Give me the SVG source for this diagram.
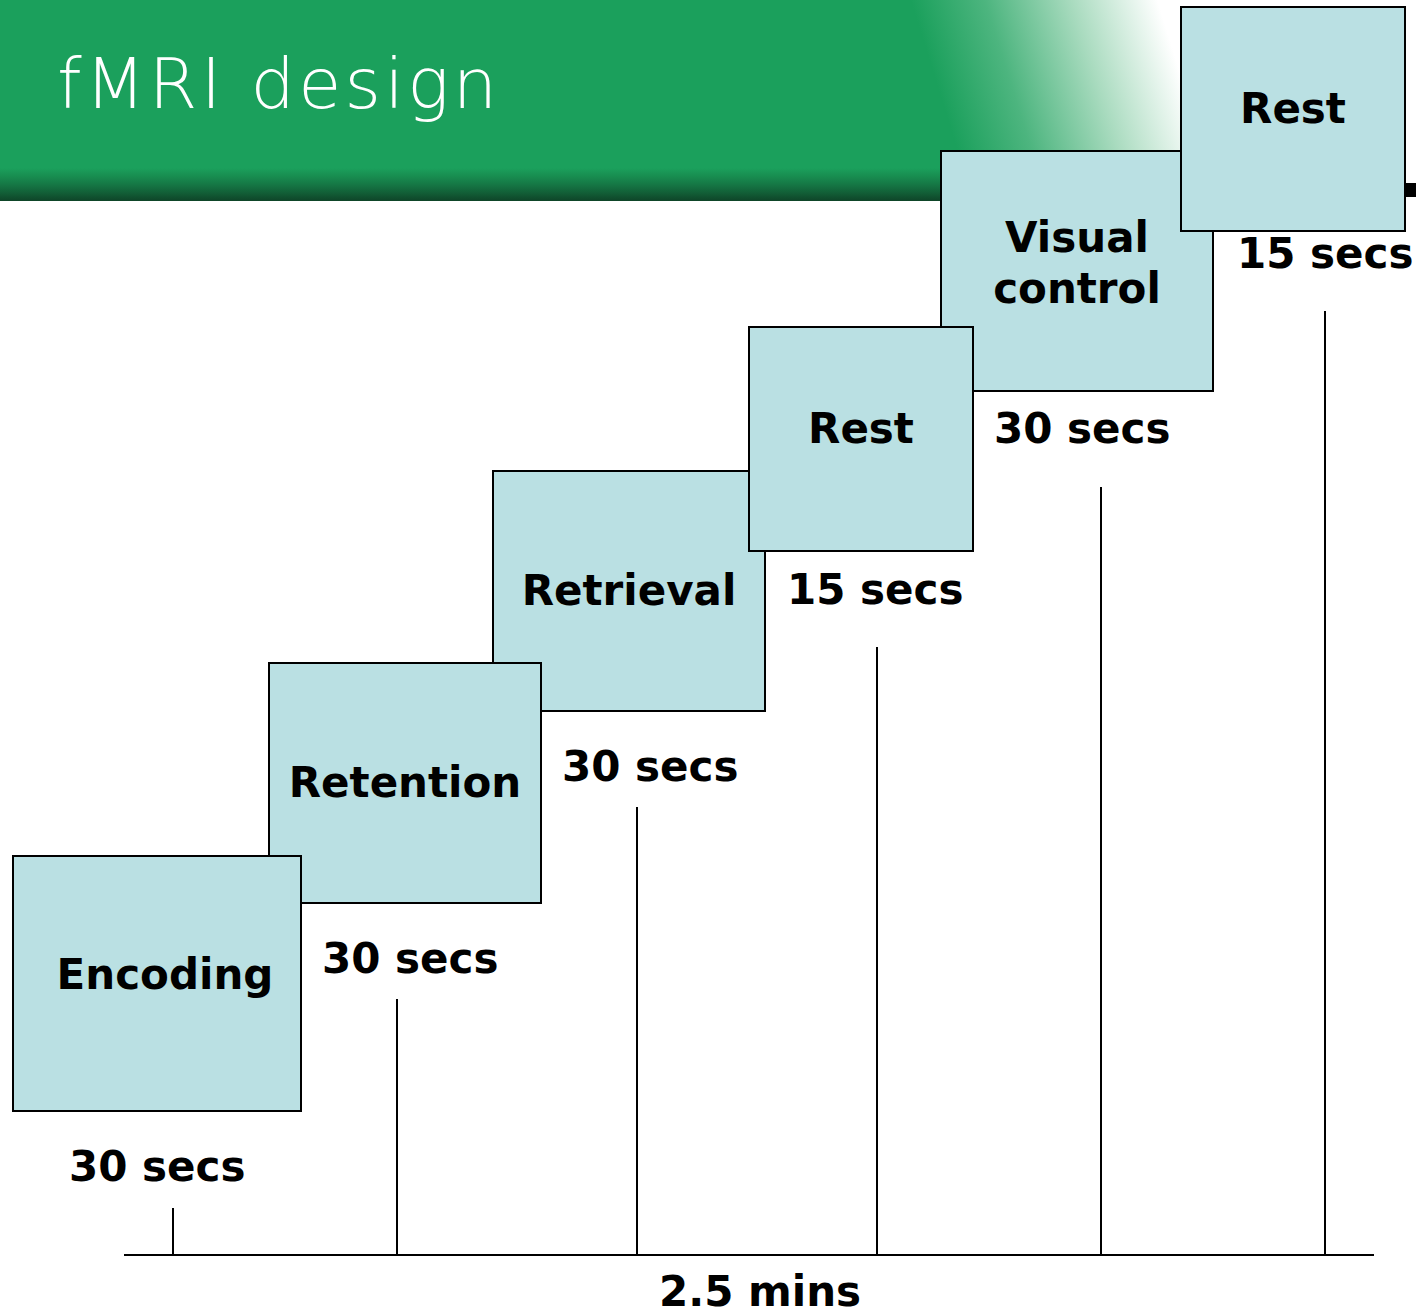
<svg xmlns="http://www.w3.org/2000/svg" width="1416" height="1311" viewBox="0 0 1416 1311">
<defs>
<linearGradient id="fade" gradientUnits="userSpaceOnUse" x1="945" y1="110" x2="1170" y2="40">
<stop offset="0" stop-color="#1ba05c"/>
<stop offset="0.3" stop-color="#4db57f"/>
<stop offset="0.65" stop-color="#a9dbbf"/>
<stop offset="1" stop-color="#ffffff"/>
</linearGradient>
<linearGradient id="band" x1="0" y1="0" x2="0" y2="1">
<stop offset="0" stop-color="#1ba05c"/>
<stop offset="0.25" stop-color="#188d50"/>
<stop offset="0.5" stop-color="#157745"/>
<stop offset="0.75" stop-color="#125f37"/>
<stop offset="1" stop-color="#0e4428"/>
</linearGradient>
<style>
.box{fill:#bae0e3;stroke:#000;stroke-width:2}
.lbl{font-family:"DejaVu Sans","Liberation Sans",sans-serif;font-weight:bold;font-size:42px;fill:#000;text-anchor:middle}
.sec{font-family:"DejaVu Sans","Liberation Sans",sans-serif;font-weight:bold;font-size:42px;fill:#000}
.ln{stroke:#000;stroke-width:2;fill:none}
</style>
</defs>
<rect width="1416" height="1311" fill="#fff"/>
<g id="header">
<rect x="0" y="0" width="1200" height="170" fill="url(#fade)"/>
<rect x="0" y="168" width="945" height="33" fill="url(#band)"/>
<text x="57" y="108" font-family="DejaVu Sans, sans-serif" font-weight="200" font-size="70" fill="#fff" textLength="440" lengthAdjust="spacing">fMRI design</text>
<rect x="1405" y="183" width="11" height="14" fill="#000"/>
</g>
<g id="connectors">
<line class="ln" x1="124" y1="1255" x2="1374" y2="1255"/>
<line class="ln" x1="173" y1="1208" x2="173" y2="1255"/>
<line class="ln" x1="397" y1="999" x2="397" y2="1255"/>
<line class="ln" x1="637" y1="807" x2="637" y2="1255"/>
<line class="ln" x1="877" y1="647" x2="877" y2="1255"/>
<line class="ln" x1="1101" y1="487" x2="1101" y2="1255"/>
<line class="ln" x1="1325" y1="311" x2="1325" y2="1255"/>
</g>
<g id="visual-control">
<rect class="box" x="941" y="151" width="272" height="240"/>
<text class="lbl" x="1077" y="252">Visual</text>
<text class="lbl" x="1077" y="303">control</text>
</g>
<g id="rest-2">
<rect class="box" x="1181" y="7" width="224" height="224"/>
<text class="lbl" x="1293" y="123">Rest</text>
</g>
<g id="retrieval">
<rect class="box" x="493" y="471" width="272" height="240"/>
<text class="lbl" x="629" y="605">Retrieval</text>
</g>
<g id="rest-1">
<rect class="box" x="749" y="327" width="224" height="224"/>
<text class="lbl" x="861" y="443">Rest</text>
</g>
<g id="retention">
<rect class="box" x="269" y="663" width="272" height="240"/>
<text class="lbl" x="405" y="797">Retention</text>
</g>
<g id="encoding">
<rect class="box" x="13" y="856" width="288" height="255"/>
<text class="lbl" x="165" y="989">Encoding</text>
</g>
<g id="durations">
<text class="sec" x="69" y="1181">30 secs</text>
<text class="sec" x="322" y="973">30 secs</text>
<text class="sec" x="562" y="781">30 secs</text>
<text class="sec" x="787" y="604">15 secs</text>
<text class="sec" x="994" y="443">30 secs</text>
<text class="sec" x="1237" y="268">15 secs</text>
<text class="lbl" x="760" y="1306">2.5 mins</text>
</g>
</svg>
